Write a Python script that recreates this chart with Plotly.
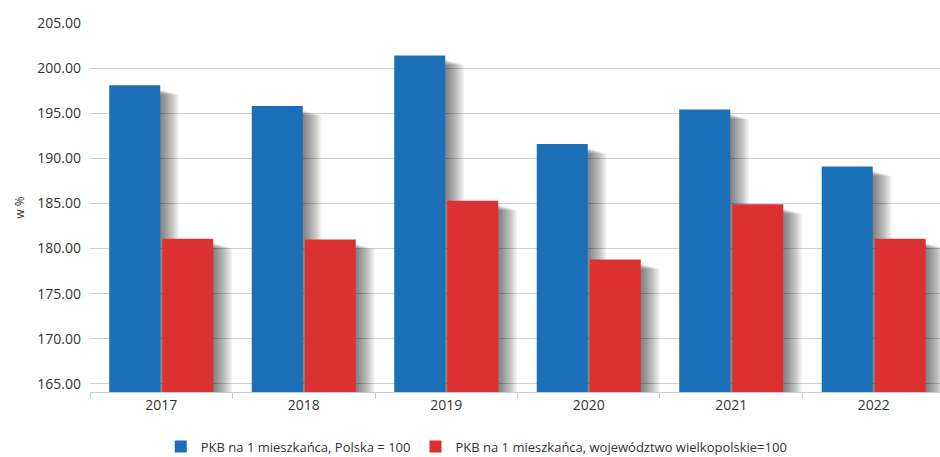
import plotly.graph_objects as go

years = ["2017", "2018", "2019", "2020", "2021", "2022"]
pl_values = [198.1, 195.8, 201.4, 191.6, 195.4, 189.1]
wlkp_values = [181.1, 181.0, 185.3, 178.8, 184.9, 181.1]
series_names = ["PKB na 1 mieszkańca, Polska = 100",
                "PKB na 1 mieszkańca, województwo wielkopolskie=100"]
colors = ["#1b6fb6", "#dd3030"]
ytick_vals = [165, 170, 175, 180, 185, 190, 195, 200, 205]

BW = 0.358
offsets = [-0.365, 0.007]

fig = go.Figure()
for vals, name, col, off in zip([pl_values, wlkp_values], series_names, colors, offsets):
    # soft drop shadow layers (blur approximation)
    for i in range(12, 0, -1):
        dx = 0.011 * i
        drop = 0.45 + 0.05 * i
        fig.add_trace(go.Bar(
            x=years, y=[v - drop for v in vals], width=BW, offset=off + dx,
            marker=dict(color="rgba(0,0,0,0.05)", line=dict(width=0)),
            showlegend=False, hoverinfo="skip"))
    fig.add_trace(go.Bar(
        x=years, y=vals, name=name, width=BW, offset=off,
        marker=dict(color=col, line=dict(width=0))))

fig.update_layout(
    width=940, height=457,
    margin=dict(l=90, r=0, t=23, b=65, autoexpand=False),
    barmode="overlay",
    paper_bgcolor="white", plot_bgcolor="white",
    font=dict(family="Open Sans, sans-serif", size=14, color="#333333"),
    legend=dict(orientation="h", x=0.455, xanchor="center", y=-0.148, yanchor="middle",
                font=dict(size=13, color="#333333"), itemwidth=30,
                traceorder="normal", bgcolor="rgba(0,0,0,0)"),
    xaxis=dict(type="category", range=[-0.5, 5.465], showgrid=False, automargin=False,
               showline=True, linecolor="#c0d0e0", linewidth=1,
               ticks="outside", tickson="boundaries", ticklen=6, tickcolor="#c0d0e0",
               tickfont=dict(size=14, color="#333333")),
    yaxis=dict(range=[164.1, 205.0], tickvals=ytick_vals, automargin=False,
               ticktext=[f"{v:.2f}" for v in ytick_vals],
               showgrid=True, gridcolor="#c7d3df", gridwidth=1.3, zeroline=False,
               showline=False, ticks="", ticklabelstandoff=8,
               tickfont=dict(size=14, color="#333333"),
               title=dict(text="w %", font=dict(size=12, color="#333333"), standoff=10)),
)
fig.write_html("out.html", config={"displayModeBar": False},
               post_script="document.body.style.margin='0';")
